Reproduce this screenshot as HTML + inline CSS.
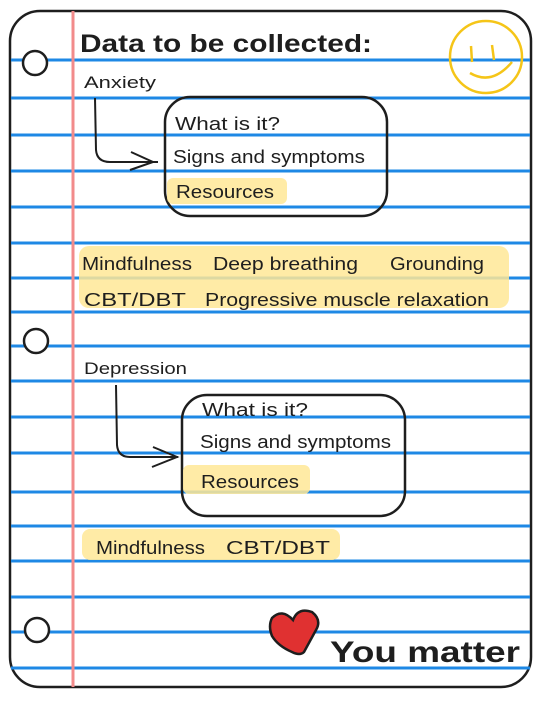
<!DOCTYPE html>
<html><head><meta charset="utf-8"><style>
body{margin:0;background:#fff;}
svg text{font-family:"Liberation Sans",sans-serif;fill:#1e1e1e;}
</style></head><body>
<svg width="547" height="696" viewBox="0 0 547 696" xmlns="http://www.w3.org/2000/svg">
<rect x="0" y="0" width="547" height="696" fill="#fff"/>
<rect x="10" y="11" width="521" height="676" rx="30" fill="#fff" stroke="#1e1e1e" stroke-width="2.5"/>
<g stroke="#1e88e5" stroke-width="3">
<line x1="11" y1="60" x2="530" y2="60"/><line x1="11" y1="98" x2="530" y2="98"/>
<line x1="11" y1="135" x2="530" y2="135"/><line x1="11" y1="171" x2="530" y2="171"/>
<line x1="11" y1="207" x2="530" y2="207"/><line x1="11" y1="243" x2="530" y2="243"/>
<line x1="11" y1="278" x2="530" y2="278"/><line x1="11" y1="312" x2="530" y2="312"/>
<line x1="11" y1="346" x2="530" y2="346"/><line x1="11" y1="381" x2="530" y2="381"/>
<line x1="11" y1="417" x2="530" y2="417"/><line x1="11" y1="453" x2="530" y2="453"/>
<line x1="11" y1="492" x2="530" y2="492"/><line x1="11" y1="526" x2="530" y2="526"/>
<line x1="11" y1="561" x2="530" y2="561"/><line x1="11" y1="597" x2="530" y2="597"/>
<line x1="11" y1="632" x2="530" y2="632"/><line x1="11" y1="668" x2="530" y2="668"/>
</g>
<line x1="73" y1="11" x2="73" y2="687" stroke="#f28b8b" stroke-width="3"/>
<g fill="#fff" stroke="#1e1e1e" stroke-width="2.5">
<circle cx="35" cy="63" r="12"/><circle cx="36" cy="341" r="12"/><circle cx="37" cy="630" r="12"/>
</g>
<text x="80" y="52" font-size="25" font-weight="bold" textLength="292" lengthAdjust="spacingAndGlyphs">Data to be collected:</text>
<g fill="none" stroke="#f5c518" stroke-width="2.5">
<circle cx="486" cy="57" r="36"/>
<path d="M471 46 L472 62 M492 45 L494 60 M470 73 Q492 86 512 62"/>
</g>
<text x="84" y="88" font-size="17" textLength="72" lengthAdjust="spacingAndGlyphs">Anxiety</text>
<path d="M95 98 L96 150 Q97 162 110 162 L158 162 M131 152 L153 162 L130 170" fill="none" stroke="#1e1e1e" stroke-width="2"/>
<rect x="165" y="97" width="222" height="119" rx="25" fill="none" stroke="#1e1e1e" stroke-width="2.5"/>
<rect x="167" y="178" width="120" height="26" rx="6" fill="#ffe896" opacity=".85"/>
<text x="175" y="130" font-size="18" textLength="105" lengthAdjust="spacingAndGlyphs">What is it?</text>
<text x="173" y="163" font-size="18" textLength="192" lengthAdjust="spacingAndGlyphs">Signs and symptoms</text>
<text x="176" y="198" font-size="18" textLength="98" lengthAdjust="spacingAndGlyphs">Resources</text>
<rect x="79" y="246" width="430" height="62" rx="10" fill="#ffe896" opacity=".85"/>
<text x="82" y="270" font-size="18" textLength="110" lengthAdjust="spacingAndGlyphs">Mindfulness</text>
<text x="213" y="270" font-size="18" textLength="145" lengthAdjust="spacingAndGlyphs">Deep breathing</text>
<text x="390" y="270" font-size="18" textLength="94" lengthAdjust="spacingAndGlyphs">Grounding</text>
<text x="84" y="306" font-size="18" textLength="102" lengthAdjust="spacingAndGlyphs">CBT/DBT</text>
<text x="205" y="306" font-size="18" textLength="284" lengthAdjust="spacingAndGlyphs">Progressive muscle relaxation</text>
<text x="84" y="374" font-size="17" textLength="103" lengthAdjust="spacingAndGlyphs">Depression</text>
<path d="M116 385 L117 445 Q118 457 130 457 L178 457 M153 447 L177 457 L152 467" fill="none" stroke="#1e1e1e" stroke-width="2"/>
<rect x="182" y="395" width="223" height="121" rx="25" fill="none" stroke="#1e1e1e" stroke-width="2.5"/>
<rect x="183" y="465" width="127" height="29" rx="6" fill="#ffe896" opacity=".85"/>
<text x="202" y="416" font-size="18" textLength="106" lengthAdjust="spacingAndGlyphs">What is it?</text>
<text x="200" y="448" font-size="18" textLength="191" lengthAdjust="spacingAndGlyphs">Signs and symptoms</text>
<text x="201" y="488" font-size="18" textLength="98" lengthAdjust="spacingAndGlyphs">Resources</text>
<rect x="82" y="529" width="258" height="31" rx="8" fill="#ffe896" opacity=".85"/>
<text x="96" y="554" font-size="18" textLength="109" lengthAdjust="spacingAndGlyphs">Mindfulness</text>
<text x="226" y="554" font-size="18" textLength="104" lengthAdjust="spacingAndGlyphs">CBT/DBT</text>
<path d="M272 618 Q282 608 293 620 Q298 607 312 612 Q322 620 316 630 L304 652 Q300 656 292 652 Q278 646 272 636 Q268 626 272 618Z" fill="#e03131" stroke="#1e1e1e" stroke-width="2.5"/>
<text x="330" y="662" font-size="30" font-weight="bold" textLength="190" lengthAdjust="spacingAndGlyphs">You matter</text>
</svg>
</body></html>
